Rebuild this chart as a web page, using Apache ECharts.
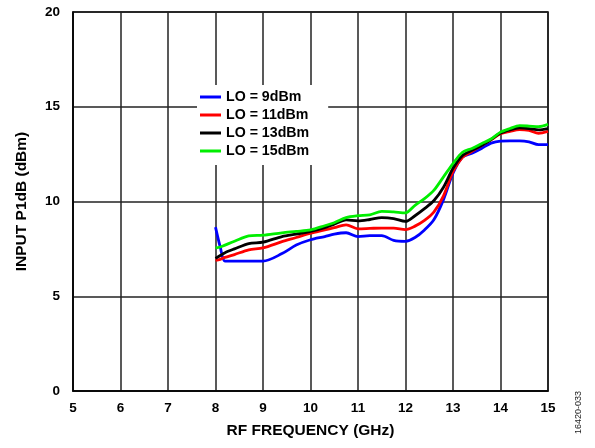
<!DOCTYPE html>
<html><head><meta charset="utf-8">
<script src="https://cdn.jsdelivr.net/npm/echarts@6/dist/echarts.min.js"></script>
<style>html,body{margin:0;padding:0;background:#fff}#c{width:595px;height:448px}</style>
</head><body><div id="c"></div>
<script>
const freq = [8.0, 8.1, 8.2, 8.4, 8.7, 9.0, 9.4, 9.7, 10.0, 10.3, 10.5, 10.75, 11.0, 11.25, 11.5, 11.75, 12.0, 12.2, 12.4, 12.6, 12.8, 13.0, 13.2, 13.4, 13.6, 13.8, 14.0, 14.2, 14.4, 14.6, 14.8, 15.0];
const lo9  = [8.65, 7.6, 6.85, 6.85, 6.85, 6.85, 7.25, 7.7, 7.98, 8.15, 8.28, 8.35, 8.15, 8.2, 8.2, 7.95, 7.9, 8.1, 8.5, 9.05, 10.1, 11.5, 12.35, 12.55, 12.8, 13.08, 13.19, 13.2, 13.2, 13.15, 13.0, 13.0];
const lo11 = [6.9, 6.95, 7.05, 7.2, 7.45, 7.55, 7.88, 8.1, 8.33, 8.5, 8.62, 8.77, 8.56, 8.58, 8.6, 8.6, 8.52, 8.7, 9.0, 9.45, 10.3, 11.57, 12.33, 12.65, 12.95, 13.25, 13.58, 13.7, 13.79, 13.75, 13.6, 13.7];
const lo13 = [7.0, 7.15, 7.3, 7.5, 7.78, 7.85, 8.15, 8.28, 8.42, 8.62, 8.8, 9.03, 8.98, 9.05, 9.15, 9.1, 8.95, 9.25, 9.62, 10.05, 10.75, 11.75, 12.43, 12.7, 12.95, 13.27, 13.61, 13.78, 13.88, 13.85, 13.78, 13.85];
const lo15 = [7.55, 7.6, 7.7, 7.9, 8.18, 8.22, 8.35, 8.42, 8.5, 8.72, 8.88, 9.15, 9.25, 9.3, 9.48, 9.45, 9.4, 9.8, 10.15, 10.6, 11.3, 12.0, 12.6, 12.8, 13.05, 13.3, 13.66, 13.85, 14.0, 13.98, 13.95, 14.07];
const seriesNames = ['LO = 9dBm', 'LO = 11dBm', 'LO = 13dBm', 'LO = 15dBm'];
const seriesColors = ['#0000ff', '#ff0000', '#000000', '#00ee00'];
const seriesValues = [lo9, lo11, lo13, lo15];

const font = 'Liberation Sans, Arial, sans-serif';
const chart = echarts.init(document.getElementById('c'), null, {renderer: 'canvas'});
chart.setOption({
  animation: false,
  backgroundColor: '#fff',
  grid: {left: 73, right: 47, top: 12, bottom: 57, show: true, borderColor: '#000', borderWidth: 1.5},
  xAxis: {
    type: 'value', min: 5, max: 15, interval: 1,
    name: 'RF FREQUENCY (GHz)', nameLocation: 'middle', nameGap: 32,
    nameTextStyle: {fontFamily: font, fontWeight: 'bold', fontSize: 15.5, color: '#000'},
    axisLine: {show: true, lineStyle: {color: '#000', width: 1.5}},
    axisTick: {show: false},
    axisLabel: {fontFamily: font, fontWeight: 'bold', fontSize: 13.5, color: '#000', margin: 10},
    splitLine: {show: true, lineStyle: {color: '#222', width: 1.5}}
  },
  yAxis: {
    type: 'value', min: 0, max: 20, interval: 5,
    name: 'INPUT P1dB (dBm)', nameLocation: 'middle', nameGap: 43,
    nameTextStyle: {fontFamily: font, fontWeight: 'bold', fontSize: 15.5, color: '#000'},
    axisLine: {show: true, lineStyle: {color: '#000', width: 1.5}},
    axisTick: {show: false},
    axisLabel: {fontFamily: font, fontWeight: 'bold', fontSize: 13.5, color: '#000', margin: 13},
    splitLine: {show: true, lineStyle: {color: '#222', width: 1.5}}
  },
  legend: {
    orient: 'vertical', left: 197, top: 85,
    backgroundColor: '#fff', padding: [3, 19, 5, 3],
    itemWidth: 21, itemHeight: 3, itemGap: 0, icon: 'rect',
    textStyle: {fontFamily: font, fontWeight: 'bold', fontSize: 14.2, color: '#000', lineHeight: 18},
    data: seriesNames
  },
  graphic: [{
    type: 'text', left: 574, top: 391, rotation: Math.PI / 2,
    style: {text: '16420-033', fontFamily: font, fontSize: 9, fill: '#222'}
  }],
  series: seriesValues.map((vals, i) => ({
    name: seriesNames[i], type: 'line', smooth: 0.3, showSymbol: false,
    color: seriesColors[i],
    lineStyle: {width: 2.8, color: seriesColors[i]},
    data: freq.map((f, j) => [f, vals[j]])
  }))
});
</script></body></html>
